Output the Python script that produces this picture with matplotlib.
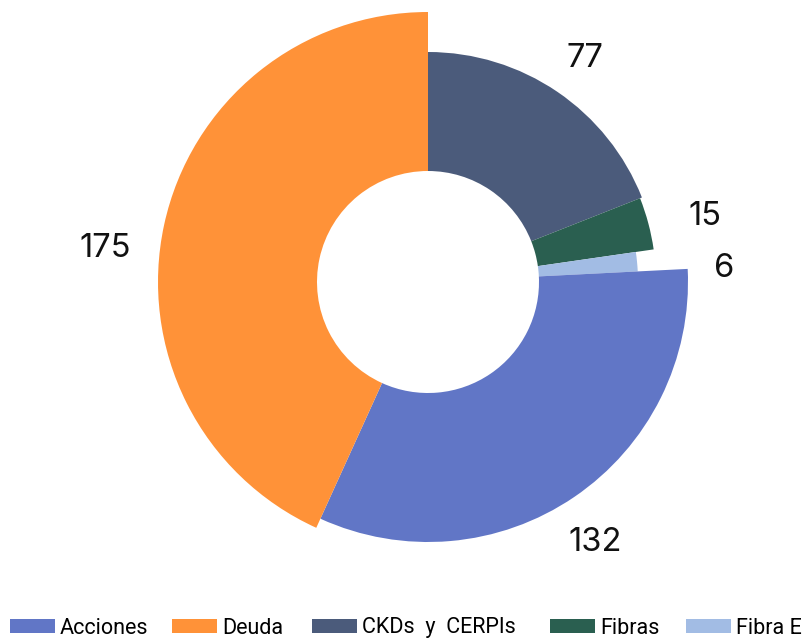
import matplotlib
matplotlib.use('Agg')
import matplotlib.pyplot as plt
import matplotlib.transforms as mtransforms
import numpy as np
from matplotlib.patches import Patch
from matplotlib import font_manager

categories = ['Acciones', 'Deuda', 'CKDs  y  CERPIs', 'Fibras', 'Fibra E']
values = [132, 175, 77, 15, 6]
value_labels = ['132', '175', '77', '15', '6']

# style
colors = ['#6176C6', '#FF9238', '#4B5B7B', '#2A5F50', '#A2BCE4']
draw_order = [2, 3, 4, 0, 1]          # clockwise from 12 o'clock
outer_r = [260, 270, 230, 228, 210]   # pixel radii per slice
inner_r = 111
label_r = [307, 325, 276, 285, 297]
label_dtheta = [1.2, -5.7, 0.5, 0.9, 2.3]
legend_x = [10, 172, 312, 550, 686]   # left pixel of each legend entry

names = {f.name for f in font_manager.fontManager.ttflist}
legend_font = 'Roboto' if 'Roboto' in names else 'DejaVu Sans'
num_font = 'Inter' if 'Inter' in names else 'DejaVu Sans'

W, H = 806, 639
fig = plt.figure(figsize=(W / 100, H / 100), dpi=100)
cx, cy, S = 428, 282, 300
ax = fig.add_axes([(cx - S) / W, (H - cy - S) / H, 2 * S / W, 2 * S / H], projection='polar')
ax.set_theta_zero_location('N')
ax.set_theta_direction(-1)
ax.set_ylim(0, S)
ax.axis('off')

txt_tr = mtransforms.offset_copy(ax.transData, fig=fig, x=0, y=-3, units='dots')

total = sum(values)
start = 0.0
for i in draw_order:
    w = values[i] / total * 2 * np.pi
    mid = start + w / 2
    ax.bar(mid, outer_r[i] - inner_r, width=w, bottom=inner_r, color=colors[i],
           edgecolor='none', align='center', linewidth=0)
    ax.text(mid + np.deg2rad(label_dtheta[i]), label_r[i], value_labels[i],
            ha='center', va='center', fontsize=23.5, family=num_font, color='#111111',
            clip_on=False, transform=txt_tr)
    start += w

for c, name, lx in zip(colors, categories, legend_x):
    leg = fig.legend([Patch(facecolor=c, edgecolor='none')], [name], loc='center left',
                     bbox_to_anchor=(lx / W, 1 - 628 / H), frameon=False,
                     handlelength=2.1, handleheight=0.65, handletextpad=0.22,
                     borderaxespad=0, borderpad=0,
                     prop={'family': legend_font, 'size': 15.5})

fig.savefig('out.png', dpi=100)
